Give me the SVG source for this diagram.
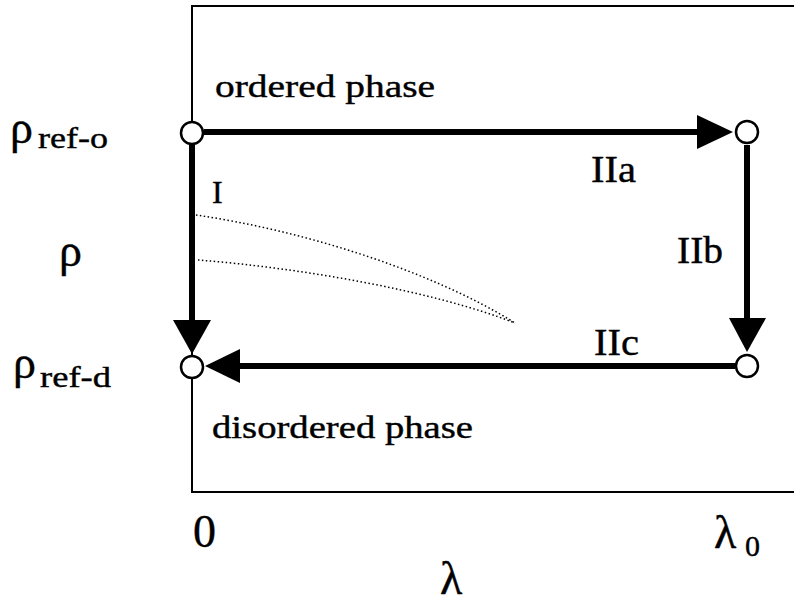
<svg xmlns="http://www.w3.org/2000/svg" width="794" height="606" viewBox="0 0 794 606">
<style>
.frame{fill:none;stroke:#000;stroke-width:2}
.arr{stroke:#000;stroke-width:6;fill:none}
.head{fill:#000}
.node{fill:#fff;stroke:#000;stroke-width:2.5}
.dot{fill:none;stroke:#000;stroke-width:1.5;stroke-dasharray:1.5 2.5}
.t{font-family:'Liberation Serif','Times New Roman',serif;fill:#000;stroke:#000;stroke-width:0.4}
.big{font-size:46px}
.sub{font-size:30px}
.lab{font-size:32px}
.lab2{font-size:38px}
</style>
<rect width="794" height="606" fill="#fff"/>
<g id="frame">
<path class="frame" d="M794,6 H192 V492 H794"/>
</g>
<g id="curves">
<path class="dot" d="M196,215 C300,230 430,270 515,323"/>
<path class="dot" d="M198,260 C300,268 430,290 515,323"/>
</g>
<g id="connectors">
<line class="arr" x1="204" y1="132" x2="700" y2="132"/>
<polygon class="head" points="697,115 733,132 697,149"/>
<line class="arr" x1="747" y1="145" x2="747" y2="320"/>
<polygon class="head" points="729,318 766,318 747,352"/>
<line class="arr" x1="735" y1="366" x2="238" y2="366"/>
<polygon class="head" points="240,349 240,383 205,366"/>
<line class="arr" x1="192" y1="145" x2="192" y2="322"/>
<polygon class="head" points="173,320 211,320 192,354"/>
</g>
<g id="node-ref-o"><circle class="node" cx="192" cy="133" r="11"/></g>
<g id="node-a"><circle class="node" cx="747" cy="132" r="11"/></g>
<g id="node-b"><circle class="node" cx="747" cy="366" r="11"/></g>
<g id="node-ref-d"><circle class="node" cx="192" cy="367" r="11"/></g>
<g id="labels">
<text class="t lab" x="215" y="97" textLength="220" lengthAdjust="spacingAndGlyphs">ordered phase</text>
<text class="t lab" x="212" y="438" textLength="261" lengthAdjust="spacingAndGlyphs">disordered phase</text>
<text class="t lab" x="212" y="203">I</text>
<text class="t lab2" x="591" y="182" textLength="45" lengthAdjust="spacingAndGlyphs">IIa</text>
<text class="t lab2" x="677" y="263" textLength="46" lengthAdjust="spacingAndGlyphs">IIb</text>
<text class="t lab2" x="594" y="355" textLength="45" lengthAdjust="spacingAndGlyphs">IIc</text>
<text class="t big" x="10" y="143">ρ</text>
<text class="t sub" x="38" y="148" textLength="70" lengthAdjust="spacingAndGlyphs">ref-o</text>
<text class="t big" x="59" y="266">ρ</text>
<text class="t big" x="13" y="378">ρ</text>
<text class="t sub" x="40" y="387" textLength="71" lengthAdjust="spacingAndGlyphs">ref-d</text>
<text class="t big" x="193" y="547">0</text>
<text class="t big" x="714" y="548">λ</text>
<text class="t sub" x="745" y="556">0</text>
<text class="t big" x="440" y="594">λ</text>
</g>
</svg>
